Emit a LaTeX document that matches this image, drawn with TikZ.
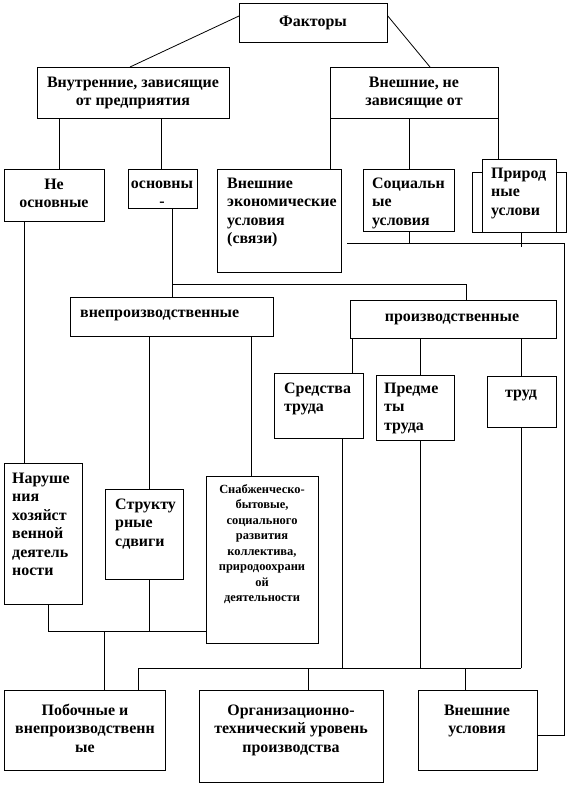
\documentclass[tikz,border=0pt]{standalone}
\usepackage{fontspec}
\setmainfont{Liberation Serif}
\begin{document}
\begin{tikzpicture}[x=1bp,y=-1bp,
  bx/.style={draw, line width=0.8bp, fill=white, inner sep=0pt, anchor=north west},
  tx/.style={font=\bfseries\fontsize{16}{18.5}\selectfont, inner sep=0pt, align=center, anchor=base},
  txl/.style={tx, align=left, anchor=base west},
  tsm/.style={font=\bfseries\fontsize{12.5}{15.5}\selectfont, inner sep=0pt, align=center, anchor=base},
  ln/.style={line width=0.8bp}]
\useasboundingbox (0,0) rectangle (567,786);
% boxes
\node[bx, minimum width=148bp, minimum height=39bp] (fak) at (239,3) {};
\node[bx, minimum width=192bp, minimum height=51bp] (vnut) at (37,67) {};
\node[bx, minimum width=168bp, minimum height=51bp] (vnesh) at (330,67) {};
\node[bx, minimum width=100bp, minimum height=52bp] (neosn) at (4,169) {};
\node[bx, minimum width=69bp, minimum height=39bp] (osn) at (128,169) {};
\node[bx, minimum width=124bp, minimum height=103bp] (vecon) at (217,169) {};
\node[bx, minimum width=91bp, minimum height=62bp] (soc) at (363,169) {};
\node[bx, minimum width=94bp, minimum height=60bp] (prirb) at (472,172) {};
\node[bx, minimum width=74bp, minimum height=73bp] (prir) at (482,159) {};
\node[bx, minimum width=203bp, minimum height=39bp] (vnepr) at (70,297) {};
\node[bx, minimum width=206bp, minimum height=38bp] (proizv) at (350,300) {};
\node[bx, minimum width=89bp, minimum height=65bp] (sred) at (274,373) {};
\node[bx, minimum width=78bp, minimum height=65bp] (pred) at (376,375) {};
\node[bx, minimum width=69bp, minimum height=51bp] (trud) at (487,376) {};
\node[bx, minimum width=78bp, minimum height=141bp] (narush) at (4,463) {};
\node[bx, minimum width=78bp, minimum height=90bp] (strukt) at (105,489) {};
\node[bx, minimum width=112bp, minimum height=167bp] (snab) at (206,476) {};
\node[bx, minimum width=161bp, minimum height=80bp] (poboch) at (4,690) {};
\node[bx, minimum width=184bp, minimum height=92bp] (org) at (199,690) {};
\node[bx, minimum width=119bp, minimum height=80bp] (vnuslov) at (418,690) {};
% x / y guide coordinates
\coordinate (xa) at (59,0);
\coordinate (xb) at (161,0);
\coordinate (xc) at (330,0);
\coordinate (xd) at (409,0);
\coordinate (xe) at (498,0);
\coordinate (xf) at (521,0);
\coordinate (xg) at (172,0);
\coordinate (xh) at (466,0);
\coordinate (xi) at (24,0);
\coordinate (xj) at (149,0);
\coordinate (xk) at (251,0);
\coordinate (xl) at (352,0);
\coordinate (xm) at (420,0);
\coordinate (xn) at (342,0);
\coordinate (xo) at (138,0);
\coordinate (xp) at (308,0);
\coordinate (xq) at (465,0);
\coordinate (xr) at (48,0);
\coordinate (xs) at (104,0);
\coordinate (yb) at (0,284);
\coordinate (yc) at (0,668);
\coordinate (yd) at (0,631);
\coordinate (busL) at (347,243);
\coordinate (busR) at (564,243);
\coordinate (prirEnd) at (521,247);
% connectors
\draw[ln] ([yshift=-13bp]fak.north west) -- ([xshift=93bp]vnut.north west);
\draw[ln] ([yshift=-13bp]fak.north east) -- ([xshift=100bp]vnesh.north west);
\draw[ln] (vnut.south -| xa) -- (neosn.north -| xa);
\draw[ln] (vnut.south -| xb) -- (osn.north -| xb);
\draw[ln] (vnesh.south -| xc) -- (vecon.north -| xc);
\draw[ln] (vnesh.south -| xd) -- (soc.north -| xd);
\draw[ln] (vnesh.south -| xe) -- (prir.north -| xe);
\draw[ln] (busL) -- (busR) |- ([yshift=-5bp]vnuslov.east);
\draw[ln] (soc.south -| xd) -- (xd |- busL);
\draw[ln] (prir.south -| xf) -- (prirEnd);
\draw[ln] (neosn.south -| xi) -- (narush.north -| xi);
\draw[ln] (osn.south -| xg) -- (vnepr.north -| xg);
\draw[ln] (xg |- yb) -- (xh |- yb) -- (proizv.north -| xh);
\draw[ln] (vnepr.south -| xj) -- (strukt.north -| xj);
\draw[ln] (vnepr.south -| xk) -- (snab.north -| xk);
\draw[ln] (proizv.south -| xl) -- (sred.north -| xl);
\draw[ln] (proizv.south -| xm) -- (pred.north -| xm);
\draw[ln] (proizv.south -| xf) -- (trud.north -| xf);
\draw[ln] (sred.south -| xn) -- (xn |- yc);
\draw[ln] (pred.south -| xm) -- (xm |- yc);
\draw[ln] (trud.south -| xf) -- (xf |- yc);
\draw[ln] (xo |- yc) -- (xf |- yc);
\draw[ln] (xo |- yc) -- (poboch.north -| xo);
\draw[ln] (xp |- yc) -- (org.north -| xp);
\draw[ln] (xq |- yc) -- (vnuslov.north -| xq);
\draw[ln] (narush.south -| xr) -- (xr |- yd) -- (snab.west |- yd);
\draw[ln] (strukt.south -| xj) -- (xj |- yd);
\draw[ln] (xs |- yd) -- (poboch.north -| xs);
% texts (anchor = baseline of last line)
\node[tx] (tfak) at (313,27) {Факторы};
\node[tx] (tvnut) at (133,105.5) {Внутренние, зависящие\\от предприятия};
\node[tx] (tvnesh) at (414,105.5) {Внешние, не\\зависящие от};
\node[tx] (tneosn) at (54,207.5) {Не\\основные};
\node[tx] (tosn) at (162,206.5) {основны\\-};
\node[txl] (tvecon) at (227,243.5) {Внешние\\экономические\\условия\\(связи)};
\node[txl] (tsoc) at (372,225) {Социальн\\ые\\условия};
\node[txl] (tprir) at (491,215) {Природ\\ные\\услови};
\node[txl] (tvnepr) at (80,317) {внепроизводственные};
\node[tx] (tproizv) at (452,321) {производственные};
\node[txl] (tsred) at (284,411.5) {Средства\\труда};
\node[txl] (tpred) at (384,430) {Предме\\ты\\труда};
\node[tx] (ttrud) at (521,397) {труд};
\node[txl] (tnarush) at (12,575.5) {Наруше\\ния\\хозяйст\\венной\\деятель\\ности};
\node[txl] (tstrukt) at (115,546) {Структу\\рные\\сдвиги};
\node[tsm] (tsnab) at (262,601.5) {Снабженческо-\\бытовые,\\социального\\развития\\коллектива,\\природоохрани\\ой\\деятельности};
\node[tx] (tpob) at (85,752) {Побочные и\\внепроизводственн\\ые};
\node[tx] (torg) at (291,752) {Организационно-\\технический уровень\\производства};
\node[tx] (tvnusl) at (477,733.5) {Внешние\\условия};
\end{tikzpicture}
\end{document}
